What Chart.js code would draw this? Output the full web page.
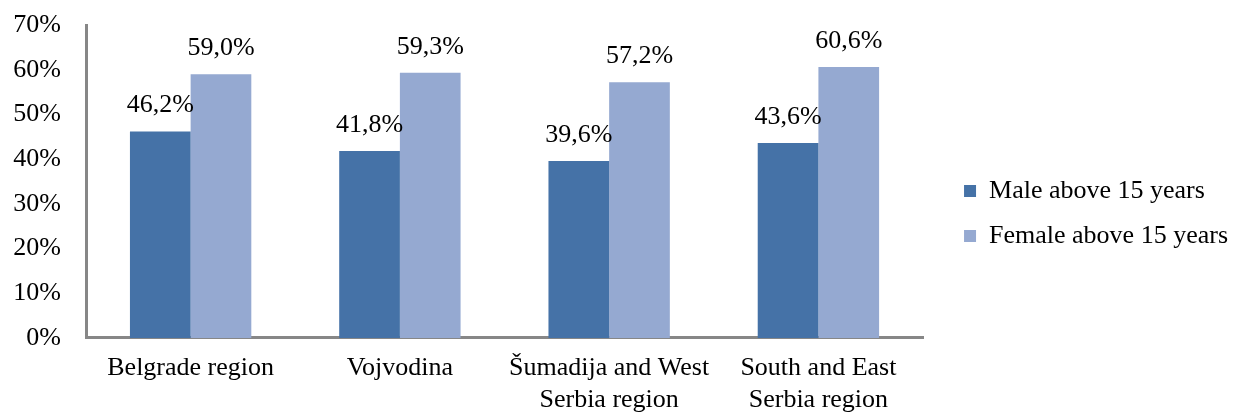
<!DOCTYPE html>
<html>
<head>
<meta charset="utf-8">
<script src="https://cdn.jsdelivr.net/npm/chart.js@4/dist/chart.umd.min.js"></script>
<style>
  html, body { margin: 0; padding: 0; background: #fff; }
  #wrap { width: 1235px; height: 412px; position: relative; }
</style>
</head>
<body>
<div id="wrap"><canvas id="chart"></canvas></div>
<script>
const regions = [
    ['Belgrade region'],
    ['Vojvodina'],
    ['Šumadija and West', 'Serbia region'],
    ['South and East', 'Serbia region']
];
const maleValues = [46.2, 41.8, 39.6, 43.6];
const femaleValues = [59.0, 59.3, 57.2, 60.6];
const seriesNames = ['Male above 15 years', 'Female above 15 years'];

const serif = "'Liberation Serif', 'Times New Roman', serif";

function pct(v) {
    return v.toFixed(1).replace('.', ',') + '%';
}

// value labels above each bar
const barLabels = {
    id: 'barLabels',
    afterDatasetsDraw(chart) {
        const ctx = chart.ctx;
        ctx.save();
        ctx.font = '26px ' + serif;
        ctx.fillStyle = '#000';
        ctx.textAlign = 'center';
        ctx.textBaseline = 'alphabetic';
        chart.data.datasets.forEach((ds, i) => {
            chart.getDatasetMeta(i).data.forEach((bar, j) => {
                ctx.fillText(pct(ds.data[j]), bar.x, bar.y - 19);
            });
        });
        ctx.restore();
    }
};

// push the legend a little away from the plot
const legendShift = {
    id: 'legendShift',
    afterLayout(chart) {
        chart.legend.left += 22;
        chart.legend.right += 22;
        chart.legend.top -= 5;
        chart.legend.bottom -= 5;
    }
};

const ctx = document.getElementById('chart').getContext('2d');
const myChart = new Chart(ctx, {
    type: 'bar',
    plugins: [barLabels, legendShift],
    data: {
        labels: regions,
        datasets: [
            {
                label: seriesNames[0],
                data: maleValues,
                backgroundColor: '#4572A7',
                barPercentage: 1,
                categoryPercentage: 0.58
            },
            {
                label: seriesNames[1],
                data: femaleValues,
                backgroundColor: '#95A9D1',
                barPercentage: 1,
                categoryPercentage: 0.58
            }
        ]
    },
    options: {
        responsive: true,
        maintainAspectRatio: false,
        animation: false,
        layout: {
            padding: { top: 25, right: 19, left: 0, bottom: 0 }
        },
        plugins: {
            legend: {
                position: 'right',
                labels: {
                    boxWidth: 12,
                    boxHeight: 12,
                    padding: 19,
                    color: '#000',
                    font: { family: serif, size: 26 }
                }
            },
            tooltip: { enabled: false }
        },
        scales: {
            x: {
                afterFit(scale) {
                    scale.height = 74;
                },
                grid: { display: false, drawTicks: false },
                border: { display: true, color: '#878787', width: 3 },
                ticks: {
                    color: '#000',
                    padding: 14,
                    maxRotation: 0,
                    font: { family: serif, size: 26, lineHeight: 1.23 }
                }
            },
            y: {
                min: 0,
                max: 70,
                afterFit(scale) {
                    scale.width = 86;
                },
                grid: { display: false, drawTicks: false },
                border: { display: true, color: '#878787', width: 3 },
                ticks: {
                    stepSize: 10,
                    color: '#000',
                    padding: 25,
                    font: { family: serif, size: 26, lineHeight: 0.001 },
                    callback: (v) => v + '%'
                }
            }
        }
    }
});
</script>
</body>
</html>
